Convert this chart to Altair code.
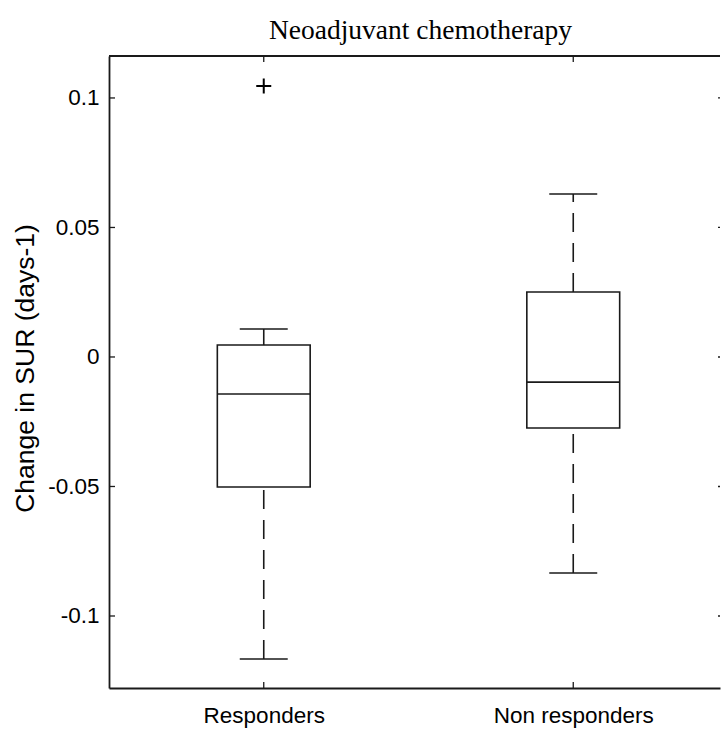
import altair as alt
import pandas as pd

# ---- data ----
categories = ["Responders", "Non responders"]
positions = [1, 2]
lower_whisker = [-0.1166, -0.0834]
q1 = [-0.0502, -0.0274]
median = [-0.0143, -0.0097]
q3 = [0.0046, 0.0251]
upper_whisker = [0.0108, 0.0629]
outlier_category = ["Responders"]
outlier_value = [0.1046]
y_ticks = [-0.1, -0.05, 0, 0.05, 0.1]

# ---- layout / style ----
W, H = 611, 632
INK = "#1a1a1a"
LW = 1.6
BOX_HALF = 0.15
CAP_HALF = 0.0775
TICK = 6

box_df = pd.DataFrame({
    "cat": categories, "pos": positions, "lo": lower_whisker, "q1": q1,
    "med": median, "q3": q3, "hi": upper_whisker,
})
pos_of = dict(zip(categories, positions))
out_df = pd.DataFrame({"pos": [pos_of[c] for c in outlier_category], "v": outlier_value})
ytick_df = pd.DataFrame({"v": y_ticks})
xtick_df = pd.DataFrame({"pos": positions})

xscale = alt.Scale(domain=[0.5, 0.5 + W / 309.5], nice=False, zero=False)
yscale = alt.Scale(domain=[-0.1278, 0.1162], nice=False, zero=False)

label_expr = " : ".join(
    f"datum.value == {p} ? '{c}'" for p, c in zip(positions, categories)
) + " : ''"

x_axis = alt.Axis(
    values=positions, labelExpr=label_expr, title=None, grid=False,
    ticks=False, tickSize=0, domain=True, domainColor=INK, domainWidth=1.8,
    labelFont="Liberation Sans", labelFontSize=22.5, labelColor="black",
    labelPadding=16, labelAngle=0,
)
y_axis = alt.Axis(
    values=y_ticks,
    labelExpr="(datum.value < 0 ? '-' : '') + format(abs(datum.value), '~g')",
    title="Change in SUR (days-1)", grid=False, ticks=False, tickSize=0,
    domain=True, domainColor=INK, domainWidth=1.8,
    labelFont="Liberation Sans", labelFontSize=22.5, labelColor="black",
    labelPadding=10,
    titleFont="Liberation Sans", titleFontSize=26.5, titleFontWeight="normal",
    titleColor="black", titleX=-76, titleY=312, titleAlign="center",
    titleBaseline="alphabetic", titleAngle=270,
)


def X(field):
    return alt.X(field, type="quantitative", scale=xscale, axis=x_axis)


def Y(field):
    return alt.Y(field, type="quantitative", scale=yscale, axis=y_axis)


base = alt.Chart(box_df).transform_calculate(
    xl=f"datum.pos - {BOX_HALF}", xr=f"datum.pos + {BOX_HALF}",
    cl=f"datum.pos - {CAP_HALF}", cr=f"datum.pos + {CAP_HALF}",
)

boxes = base.mark_rect(fill="white", stroke=INK, strokeWidth=LW).encode(
    x=X("xl"), x2="xr:Q", y=Y("q1"), y2="q3:Q",
)
medians = base.mark_rule(color=INK, strokeWidth=LW).encode(
    x=X("xl"), x2="xr:Q", y=Y("med"),
)
whisk_lo = base.mark_rule(color=INK, strokeWidth=LW, strokeDash=[19, 11]).encode(
    x=X("pos"), y=Y("lo"), y2="q1:Q",
)
whisk_hi = base.mark_rule(color=INK, strokeWidth=LW, strokeDash=[19, 11]).encode(
    x=X("pos"), y=Y("q3"), y2="hi:Q",
)
cap_lo = base.mark_rule(color=INK, strokeWidth=LW).encode(
    x=X("cl"), x2="cr:Q", y=Y("lo"),
)
cap_hi = base.mark_rule(color=INK, strokeWidth=LW).encode(
    x=X("cl"), x2="cr:Q", y=Y("hi"),
)
outliers = alt.Chart(out_df).mark_point(
    shape="M-1,0L1,0M0,-1L0,1", size=225, stroke="black", strokeWidth=2,
    filled=False, opacity=1,
).encode(x=X("pos"), y=Y("v"))

# frame pieces and inward ticks (MATLAB style)
top_border = alt.Chart(xtick_df).mark_rule(color=INK, strokeWidth=1.8).encode(
    x=alt.value(0), x2=alt.value(W), y=alt.value(0)
)
left_ticks = alt.Chart(ytick_df).mark_rule(color=INK, strokeWidth=1.3).encode(
    y=Y("v"), x=alt.value(0), x2=alt.value(TICK)
)
right_ticks = alt.Chart(ytick_df).mark_rule(color=INK, strokeWidth=1.3).encode(
    y=Y("v"), x=alt.value(W - 2), x2=alt.value(W)
)
top_ticks = alt.Chart(xtick_df).mark_rule(color=INK, strokeWidth=1.3).encode(
    x=X("pos"), y=alt.value(0), y2=alt.value(TICK)
)
bottom_ticks = alt.Chart(xtick_df).mark_rule(color=INK, strokeWidth=1.3).encode(
    x=X("pos"), y=alt.value(H - TICK), y2=alt.value(H)
)

chart = alt.layer(
    boxes, medians, whisk_lo, whisk_hi, cap_lo, cap_hi, outliers,
    top_border, left_ticks, right_ticks, top_ticks, bottom_ticks,
).properties(
    width=W, height=H, background="white",
    title=alt.TitleParams(
        "Neoadjuvant chemotherapy", font="Liberation Serif", fontSize=27.5,
        fontWeight="normal", color="black", anchor="middle", dx=6,
        offset=-11, baseline="alphabetic",
    ),
    autosize=alt.AutoSizeParams(type="none"),
    padding={"left": 109, "top": 56, "right": 1, "bottom": 41},
).configure_view(stroke=None)

chart.save("out.html", embed_options={"renderer": "svg", "actions": False})
